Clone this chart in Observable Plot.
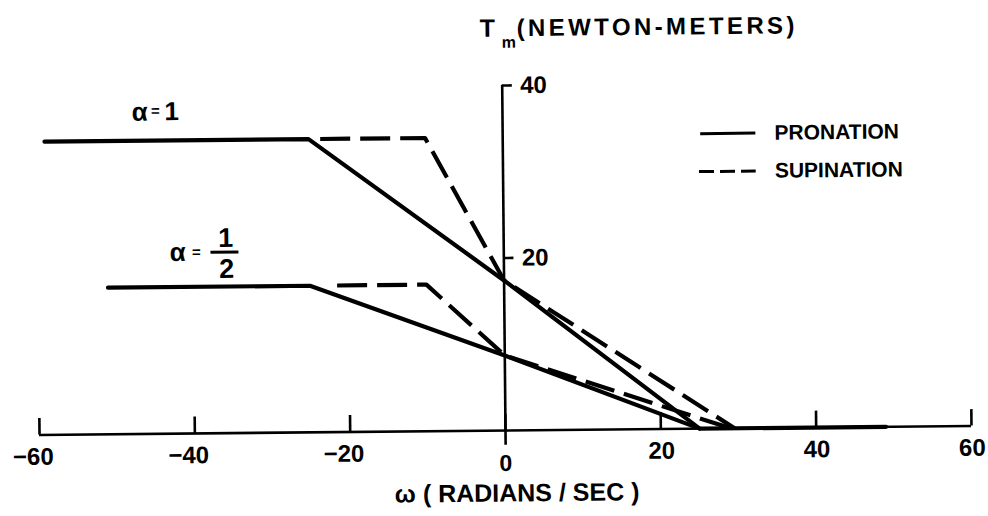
<!DOCTYPE html>
<html>
<head>
<meta charset="utf-8">
<script src="https://cdn.jsdelivr.net/npm/d3@7"></script>
<script src="https://cdn.jsdelivr.net/npm/@observablehq/plot@0.6"></script>
<style>
  html, body { margin: 0; padding: 0; background: #fff; overflow: hidden; }
  #chart svg { display: block; transform: rotate(-0.55deg); transform-origin: 505px 430px; }
</style>
</head>
<body>
<div id="chart"></div>
<script>
// Axis ticks: angular velocity ω (rad/s) and torque Tm (N·m)
const xTicks = [-60, -40, -20, 0, 20, 40, 60];
const yTicks = [20, 40];

// Maximum torque vs. angular velocity, activation a = 1
const omegaPronationA1 = [-59, -25, 0, 25, 49];
const torquePronationA1 = [34, 34, 17.4, 0, 0];
const omegaSupinationA1 = [-23.5, -10, 0, 29.5];
const torqueSupinationA1 = [34, 34, 17.4, 0];

// Activation a = 1/2
const omegaPronationA2 = [-51, -25, 0, 25];
const torquePronationA2 = [17, 17, 8.7, 0];
const omegaSupinationA2 = [-21.5, -10, 0, 29];
const torqueSupinationA2 = [17, 17, 8.7, 0];

const legendLabels = ["PRONATION", "SUPINATION"];
const yTitle = "(NEWTON-METERS)";

const pts = (xs, ys) => xs.map((x, i) => ({x, y: ys[i]}));
const font = "'Liberation Sans', Arial, sans-serif";
const ink = "#000";

const solid = {x: "x", y: "y", stroke: ink, strokeWidth: 4.2, strokeLinejoin: "round", strokeLinecap: "round"};
const dashed = {...solid, strokeDasharray: "30,10", strokeLinecap: "butt"};

const fmt = d => (d < 0 ? "\u2212" + (-d) : String(d));
const label = (s, x, y, fontSize, extra = {}) =>
  Plot.text([s], {x, y, text: d => d, fontSize, fill: ink, ...extra});

const chart = Plot.plot({
  width: 988,
  height: 516,
  marginLeft: 39,
  marginRight: 17,
  marginTop: 85,
  marginBottom: 86,
  x: {domain: [-60, 60], axis: null},
  y: {domain: [0, 40], axis: null},
  style: {fontFamily: font, fontWeight: "bold", background: "#fff", color: ink},
  marks: [
    // axes drawn as a cross through the origin
    Plot.ruleY([0], {x1: -60, x2: 60, stroke: ink, strokeWidth: 2.6}),
    Plot.ruleX(xTicks, {y1: 0, y2: 1.9, stroke: ink, strokeWidth: 2.6}),
    Plot.ruleX([0], {y1: -1.7, y2: 40, stroke: ink, strokeWidth: 2.6}),
    Plot.ruleY(yTicks, {x1: 0, x2: 1.3, stroke: ink, strokeWidth: 2.6}),

    // tick labels: digits centred on the tick, minus sign hanging left
    Plot.text(xTicks.filter(d => d !== 0), {x: d => d, y: 0, text: fmt, textAnchor: "end", dx: 14, dy: 22, fontSize: 24, fill: ink}),
    Plot.text([0], {x: d => d, y: 0, text: fmt, dy: 33, fontSize: 23, fill: ink}),
    Plot.text(yTicks, {x: 0, y: d => d, text: fmt, textAnchor: "start", dx: 18, fontSize: 24, fill: ink}),

    // torque curves
    Plot.line(pts(omegaPronationA1, torquePronationA1), solid),
    Plot.line(pts(omegaSupinationA1, torqueSupinationA1), dashed),
    Plot.line(pts(omegaPronationA2, torquePronationA2), solid),
    Plot.line(pts(omegaSupinationA2, torqueSupinationA2), dashed),

    // legend
    Plot.ruleY([34.2], {x1: 25.5, x2: 32.6, stroke: ink, strokeWidth: 3}),
    Plot.ruleY([29.8], {x1: 25.3, x2: 32.6, stroke: ink, strokeWidth: 3, strokeDasharray: "15,6"}),
    Plot.text(legendLabels, {x: 35, y: (d, i) => [34.2, 29.8][i], text: d => d, textAnchor: "start", fontSize: 21, fill: ink}),

    // activation labels
    label("α", -46.7, 37.3, 26),
    label("=", -44.7, 37.4, 15),
    label("1", -42.6, 37.3, 26),

    label("α", -42.0, 21.0, 26),
    label("=", -39.6, 21.0, 15),
    Plot.ruleY([21.0], {x1: -37.7, x2: -34.1, stroke: ink, strokeWidth: 3}),
    label("1", -35.8, 22.6, 27),
    label("2", -35.7, 19.0, 27),

    // axis titles
    Plot.text(["T"], {x: 0, y: 40, text: d => d, textAnchor: "start", dx: -22, dy: -57, fontSize: 25, fill: ink}),
    Plot.text(["m"], {x: 0, y: 40, text: d => d, textAnchor: "start", dx: 0, dy: -43, fontSize: 16, fill: ink}),
    Plot.text([yTitle], {x: 0, y: 40, text: d => d, textAnchor: "start", dx: 15, dy: -57, fontSize: 24, fill: ink}),
    Plot.text(["ω ( RADIANS / SEC )"], {x: 0, y: 0, text: d => d, dx: 11, dy: 63, fontSize: 25, fill: ink})
  ]
});

// widen the lettering of the torque axis title
d3.select(chart).selectAll("text")
  .filter(function () { return this.textContent === yTitle; })
  .attr("letter-spacing", "3.4px");

document.getElementById("chart").appendChild(chart);
</script>
</body>
</html>
